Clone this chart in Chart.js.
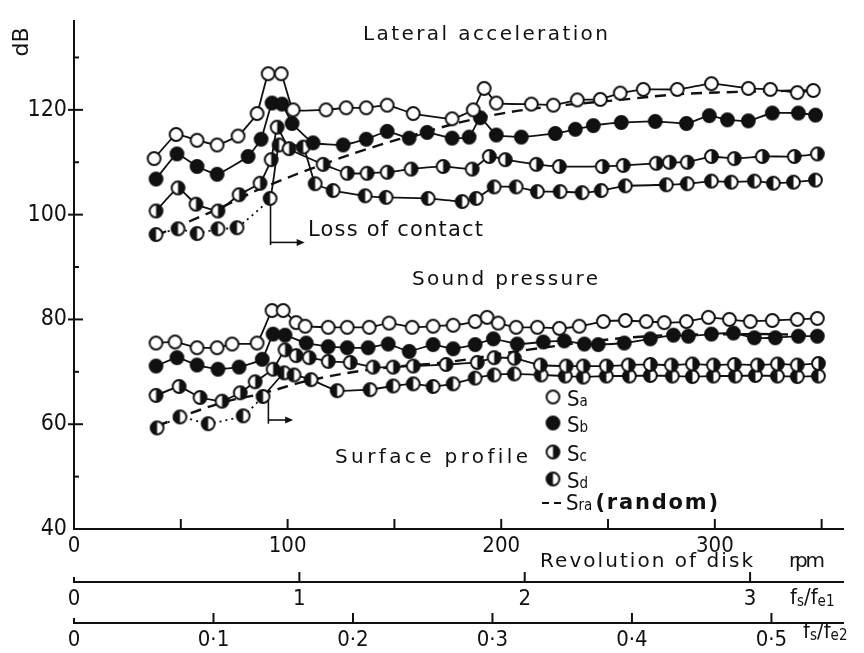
<!DOCTYPE html>
<html>
<head>
<meta charset="utf-8">
<script src="https://cdn.jsdelivr.net/npm/chart.js@4.4.0/dist/chart.umd.min.js"></script>
<style>
  html, body { margin: 0; padding: 0; background: #fff; }
  canvas { display: block; }
</style>
</head>
<body>
<canvas id="chart" width="864" height="653"></canvas>
<script>
// axis ticks
const rpmLabels = [0, 100, 200, 300];
const rpmMinor = [50, 150, 250, 350];
const dbLabels = [40, 60, 80, 100, 120];
const dbMinor = [50, 70, 90, 110, 130];
const fe1Labels = [0, 1, 2, 3];
const fe2Labels = [0, 0.1, 0.2, 0.3, 0.4, 0.5];
const rpmPerFe1 = 105.5;   // rpm at fs/fe1 = 1
const rpmPerFe2 = 653;     // rpm at fs/fe2 = 1

// lateral acceleration (dB)
const accRpmSa = [37.5, 47.8, 57.6, 67.0, 76.8, 85.7, 90.9, 97.0, 102.6, 118.0, 127.4, 136.8, 146.6, 158.8, 177.0, 186.9, 192.0, 197.7, 214.1, 224.4, 235.6, 246.4, 255.7, 266.5, 282.4, 298.4, 315.7, 326.0, 338.6, 346.1];
const accDbSa = [110.7, 115.3, 114.2, 113.3, 115.0, 119.3, 126.9, 126.9, 120.0, 120.0, 120.4, 120.4, 120.9, 119.3, 118.3, 120.0, 124.1, 121.3, 121.1, 120.9, 121.9, 122.0, 123.2, 123.9, 123.9, 125.0, 124.1, 123.9, 123.3, 123.7];

const accRpmSb = [38.4, 48.2, 57.6, 67.0, 81.5, 87.6, 92.7, 97.4, 102.1, 111.9, 126.0, 136.8, 146.6, 156.9, 165.3, 177.0, 185.0, 190.2, 197.7, 209.4, 225.3, 234.7, 243.1, 256.2, 272.1, 286.7, 297.4, 305.9, 315.7, 326.9, 339.1, 347.1];
const accDbSb = [106.8, 111.6, 109.2, 107.7, 111.1, 114.4, 121.3, 121.1, 117.4, 113.7, 113.3, 114.4, 115.9, 114.6, 115.7, 114.6, 114.8, 118.5, 115.2, 114.8, 115.5, 116.3, 117.0, 117.6, 117.8, 117.4, 118.9, 118.1, 117.9, 119.4, 119.4, 119.0];

const accRpmSc = [38.4, 48.7, 57.1, 67.4, 77.3, 87.1, 92.3, 95.1, 100.7, 116.6, 127.9, 137.2, 146.6, 157.8, 172.8, 186.4, 194.4, 201.9, 216.4, 227.2, 247.3, 257.1, 272.6, 278.7, 287.1, 298.4, 309.1, 322.2, 337.2, 348.0];
const accDbSc = [100.7, 105.1, 102.0, 100.7, 103.8, 106.0, 110.5, 116.7, 112.6, 109.6, 107.9, 107.9, 108.1, 108.7, 109.2, 108.7, 111.1, 110.5, 109.6, 109.2, 109.2, 109.4, 109.8, 110.0, 110.0, 111.1, 110.7, 111.1, 111.1, 111.6];

const accRpmSd = [38.4, 48.7, 57.6, 67.4, 76.3, 91.8, 96.0, 107.3, 112.9, 121.3, 136.3, 146.1, 165.8, 181.7, 188.3, 196.7, 207.0, 216.9, 227.6, 237.9, 246.8, 258.1, 277.3, 287.1, 298.4, 307.7, 318.5, 327.4, 336.8, 347.1];
const accDbSd = [96.2, 97.3, 96.4, 97.3, 97.5, 103.1, 113.3, 112.9, 105.9, 104.6, 103.6, 103.3, 103.1, 102.5, 103.1, 105.3, 105.3, 104.4, 104.4, 104.2, 104.6, 105.5, 105.7, 105.9, 106.4, 106.2, 106.4, 106.0, 106.2, 106.6];

const accRpmRa = [38.4, 68.0, 87.1, 116.6, 140.0, 163.5, 190.2, 218.3, 255.7, 283.8, 318.0, 346.0];
const accDbRa = [96.0, 101.2, 104.9, 109.6, 112.9, 115.7, 118.5, 120.4, 121.9, 123.0, 123.5, 123.7];

// sound pressure (dB)
const sndRpmSa = [38.4, 47.3, 57.6, 67.0, 74.0, 85.7, 92.7, 97.9, 104.0, 108.2, 119.0, 127.9, 138.2, 147.5, 158.3, 168.1, 177.5, 187.8, 193.4, 198.6, 207.0, 216.9, 227.2, 236.5, 247.8, 258.1, 267.9, 276.3, 286.7, 297.0, 306.8, 316.6, 326.9, 338.6, 348.0];
const sndDbSa = [75.5, 75.7, 74.6, 74.6, 75.3, 75.5, 81.7, 81.7, 79.4, 78.7, 78.5, 78.5, 78.5, 79.3, 78.5, 78.7, 78.9, 79.6, 80.4, 79.3, 78.5, 78.5, 78.3, 78.7, 79.6, 79.8, 79.6, 79.4, 79.6, 80.4, 80.0, 79.6, 79.8, 80.0, 80.2];

const sndRpmSb = [38.4, 48.2, 57.6, 67.4, 77.3, 88.1, 93.2, 98.8, 108.7, 119.0, 127.9, 137.7, 147.1, 156.9, 168.1, 177.5, 187.8, 196.3, 207.5, 219.7, 229.5, 238.9, 245.4, 257.6, 269.8, 280.6, 287.6, 298.4, 308.7, 318.5, 328.3, 339.1, 348.0];
const sndDbSb = [71.1, 72.7, 71.3, 70.5, 70.9, 72.4, 77.2, 77.0, 75.5, 74.8, 74.6, 74.6, 75.3, 73.9, 75.2, 74.4, 75.2, 76.3, 75.3, 75.7, 75.9, 75.3, 75.2, 75.5, 76.3, 77.0, 76.8, 77.2, 77.4, 76.5, 76.5, 76.8, 76.8];

const sndRpmSc = [38.4, 49.2, 59.0, 69.3, 77.8, 84.8, 93.2, 98.8, 104.0, 110.1, 119.0, 129.3, 140.0, 149.4, 158.8, 174.2, 188.8, 196.7, 206.1, 218.3, 230.4, 238.4, 249.2, 259.5, 269.8, 279.6, 289.5, 299.3, 309.1, 319.9, 329.3, 338.6, 348.5];
const sndDbSc = [65.5, 67.2, 65.1, 64.4, 66.0, 68.1, 70.5, 74.2, 73.1, 72.7, 72.0, 71.8, 70.9, 70.9, 71.1, 71.4, 71.8, 72.7, 72.6, 71.3, 71.1, 71.1, 71.1, 71.3, 71.4, 71.3, 71.5, 71.3, 71.4, 71.3, 71.5, 71.3, 71.6];

const sndRpmSd = [38.9, 49.6, 62.8, 79.2, 88.5, 98.4, 103.0, 111.0, 123.2, 138.6, 149.4, 158.8, 168.1, 177.5, 187.8, 196.7, 206.1, 218.7, 230.0, 238.4, 249.2, 260.0, 269.8, 280.1, 289.5, 299.3, 309.6, 319.0, 329.3, 338.6, 348.5];
const sndDbSd = [59.3, 61.4, 60.1, 61.6, 65.3, 69.8, 69.4, 68.5, 66.4, 66.6, 67.3, 67.7, 67.2, 67.7, 68.8, 69.4, 69.6, 69.4, 69.2, 69.0, 69.2, 69.2, 69.3, 69.2, 69.1, 69.2, 69.2, 69.3, 69.2, 69.1, 69.2];

const sndRpmRa = [38.9, 68.4, 88.5, 109.6, 140.0, 177.5, 212.2, 265.1, 315.2, 348.0];
const sndDbRa = [59.7, 64.0, 65.9, 68.3, 70.5, 72.0, 74.2, 76.7, 77.2, 77.0];

const INK = '#111';
const SANS = "'DejaVu Sans', 'Liberation Sans', sans-serif";
const TICKFONT = "'Liberation Sans Narrow', 'DejaVu Sans Condensed', 'Liberation Sans', sans-serif";

// circle markers: open, filled, half filled
function makeMarker(kind) {
  const c = document.createElement('canvas');
  c.width = 17; c.height = 17;
  const g = c.getContext('2d');
  const r = 6.4, cx = 8.5, cy = 8.5;
  g.beginPath();
  g.arc(cx, cy, r, 0, Math.PI * 2);
  g.fillStyle = kind === 'filled' ? INK : '#fff';
  g.fill();
  if (kind === 'right' || kind === 'left') {
    g.beginPath();
    if (kind === 'right') g.arc(cx, cy, r, -Math.PI / 2, Math.PI / 2);
    else g.arc(cx, cy, r, Math.PI / 2, Math.PI * 1.5);
    g.closePath();
    g.fillStyle = INK;
    g.fill();
  }
  g.beginPath();
  g.arc(cx, cy, r, 0, Math.PI * 2);
  g.lineWidth = 2;
  g.strokeStyle = INK;
  g.stroke();
  return c;
}
const mkOpen = makeMarker('open');
const mkFilled = makeMarker('filled');
const mkSc = makeMarker('right');
const mkSd = makeMarker('left');

const pts = (xs, ys) => xs.map((x, i) => ({ x: x, y: ys[i] }));

function series(xs, ys, marker, dottedUpTo) {
  const ds = {
    data: pts(xs, ys),
    showLine: true,
    borderColor: INK,
    borderWidth: 1.8,
    tension: 0.1,
    pointStyle: marker,
    pointRadius: 7,
    pointHoverRadius: 7
  };
  if (dottedUpTo !== undefined) {
    ds.segment = { borderDash: ctx => ctx.p1DataIndex <= dottedUpTo ? [2, 4] : undefined };
  }
  return ds;
}

function randomLine(xs, ys) {
  return {
    data: pts(xs, ys),
    showLine: true,
    borderColor: INK,
    borderWidth: 2.4,
    borderDash: [11, 7],
    tension: 0.4,
    pointRadius: 0
  };
}

const datasets = [
  series(accRpmSa, accDbSa, mkOpen),
  series(accRpmSb, accDbSb, mkFilled),
  series(accRpmSc, accDbSc, mkSc),
  series(accRpmSd, accDbSd, mkSd, 5),
  series(sndRpmSa, sndDbSa, mkOpen),
  series(sndRpmSb, sndDbSb, mkFilled),
  series(sndRpmSc, sndDbSc, mkSc),
  series(sndRpmSd, sndDbSd, mkSd, 4),
  randomLine(accRpmRa, accDbRa),
  randomLine(sndRpmRa, sndDbRa)
];

// text spread out to a given width
function fitText(ctx, str, x, y, w) {
  ctx.letterSpacing = '0px';
  const m = ctx.measureText(str).width;
  if (str.length > 1) ctx.letterSpacing = ((w - m) / (str.length - 1)).toFixed(2) + 'px';
  ctx.fillText(str, x, y);
  ctx.letterSpacing = '0px';
}

// letter followed by a small subscript, returns the x after it
function subText(ctx, main, sub, x, y, big, small, drop) {
  ctx.font = big;
  ctx.fillText(main, x, y);
  x += ctx.measureText(main).width;
  if (sub) {
    ctx.font = small;
    ctx.fillText(sub, x, y + (drop || 0));
    x += ctx.measureText(sub).width;
  }
  return x;
}

function arrowTo(ctx, x0, y0, x1, y1) {
  ctx.beginPath();
  ctx.moveTo(x0, y0);
  ctx.lineTo(x1 - 6, y1);
  ctx.stroke();
  ctx.beginPath();
  ctx.moveTo(x1, y1);
  ctx.lineTo(x1 - 8, y1 - 3.5);
  ctx.lineTo(x1 - 8, y1 + 3.5);
  ctx.closePath();
  ctx.fill();
}

const decor = {
  id: 'decor',
  afterDraw(chart) {
    const { ctx, scales } = chart;
    const sx = scales.x, sy = scales.y, e1 = scales.fe1, e2 = scales.fe2;
    ctx.save();
    ctx.strokeStyle = INK;
    ctx.fillStyle = INK;
    ctx.lineWidth = 2;
    const seg = (a, b, c, d) => { ctx.beginPath(); ctx.moveTo(a, b); ctx.lineTo(c, d); ctx.stroke(); };

    // y ticks
    const ax = sy.right;
    dbLabels.forEach(v => { const p = sy.getPixelForValue(v); if (v > 40) seg(ax - 6, p, ax + 9, p); });
    dbMinor.forEach(v => { const p = sy.getPixelForValue(v); seg(ax, p, ax + 5, p); });

    // rpm ticks point up into the plot
    rpmLabels.concat(rpmMinor).forEach(v => {
      if (v === 0) return;
      const p = sx.getPixelForValue(v);
      seg(p, sx.top, p, sx.top - 10);
    });
    fe1Labels.forEach(v => { const p = e1.getPixelForValue(v); seg(p, e1.top, p, e1.top - (v === 0 ? 5 : 10)); });
    fe2Labels.forEach(v => { const p = e2.getPixelForValue(v); seg(p, e2.top, p, e2.top - (v === 0 ? 5 : 10)); });

    // loss of contact markers
    ctx.lineWidth = 1.6;
    let xa = sx.getPixelForValue(92), xb = sx.getPixelForValue(108);
    seg(xa, sy.getPixelForValue(101.8), xa, sy.getPixelForValue(94.2));
    arrowTo(ctx, xa, sy.getPixelForValue(94.7), xb, sy.getPixelForValue(94.7));
    xa = sx.getPixelForValue(91); xb = sx.getPixelForValue(102.6);
    seg(xa, sy.getPixelForValue(64.6), xa, sy.getPixelForValue(60.1));
    arrowTo(ctx, xa, sy.getPixelForValue(60.8), xb, sy.getPixelForValue(60.8));

    // panel captions
    ctx.textAlign = 'left';
    ctx.textBaseline = 'alphabetic';
    ctx.font = '20px ' + SANS;
    fitText(ctx, 'Lateral acceleration', 363, 40, 245);
    fitText(ctx, 'Sound pressure', 412, 285, 186);
    fitText(ctx, 'Surface profile', 335, 463, 193);
    ctx.font = '21px ' + SANS;
    fitText(ctx, 'Loss of contact', 308, 236, 175);

    // dB
    ctx.save();
    ctx.translate(22, 42);
    ctx.rotate(-Math.PI / 2);
    ctx.textAlign = 'center';
    ctx.textBaseline = 'middle';
    ctx.font = '22px ' + SANS;
    ctx.fillText('dB', 0, 0);
    ctx.restore();

    // legend
    const big = '22px ' + TICKFONT, small = '15px ' + TICKFONT;
    const marks = [mkOpen, mkFilled, mkSc, mkSd];
    const subs = ['a', 'b', 'c', 'd'];
    const ly = [397, 423, 452, 479];
    marks.forEach((m, i) => {
      ctx.drawImage(m, 553 - m.width / 2, ly[i] - m.height / 2);
      subText(ctx, 'S', subs[i], 567, ly[i] + 9, big, small, 0);
    });
    ctx.lineWidth = 2;
    seg(542, 503, 549, 503);
    seg(554, 503, 561, 503);
    let nx = subText(ctx, 'S', 'ra', 566, 510, big, small, 0);
    ctx.font = 'bold 21px ' + SANS;
    fitText(ctx, '(random)', nx + 3, 509, 718 - nx - 3);

    // axis captions
    ctx.font = '20px ' + SANS;
    fitText(ctx, 'Revolution of disk', 540, 567, 213);
    fitText(ctx, 'rpm', 789, 567, 36);
    const fbig = '22px ' + TICKFONT, fsmall = '15px ' + TICKFONT;
    let fx = subText(ctx, 'f', 's', 790, 604, fbig, fsmall, 2);
    fx = subText(ctx, '/f', 'e1', fx, 604, fbig, fsmall, 2);
    fx = subText(ctx, 'f', 's', 803, 638, fbig, fsmall, 2);
    subText(ctx, '/f', 'e2', fx, 638, fbig, fsmall, 2);
    ctx.restore();
  }
};

const tickFont = { family: TICKFONT, size: 22 };
const fixTicks = list => s => { s.ticks = list.map(v => ({ value: v })); };

new Chart(document.getElementById('chart'), {
  type: 'scatter',
  data: { datasets: datasets },
  options: {
    responsive: false,
    animation: false,
    devicePixelRatio: 1,
    layout: { padding: { top: 8, right: 21, left: 0, bottom: 0 }, autoPadding: false },
    plugins: { legend: { display: false }, tooltip: { enabled: false } },
    scales: {
      x: {
        type: 'linear', position: 'bottom', weight: 0, min: 0, max: 360,
        grid: { display: false, drawTicks: false },
        border: { color: INK, width: 2 },
        ticks: { color: INK, font: tickFont, padding: 4, maxRotation: 0 },
        afterBuildTicks: fixTicks(rpmLabels),
        afterFit: s => { s.height = 53; }
      },
      fe1: {
        type: 'linear', axis: 'x', position: 'bottom', weight: 1, min: 0, max: 360 / rpmPerFe1,
        grid: { display: false, drawTicks: false },
        border: { color: INK, width: 2 },
        ticks: { color: INK, font: tickFont, padding: 4, maxRotation: 0 },
        afterBuildTicks: fixTicks(fe1Labels),
        afterFit: s => { s.height = 41; }
      },
      fe2: {
        type: 'linear', axis: 'x', position: 'bottom', weight: 2, min: 0, max: 360 / rpmPerFe2,
        grid: { display: false, drawTicks: false },
        border: { color: INK, width: 2 },
        ticks: {
          color: INK, font: tickFont, padding: 4, maxRotation: 0,
          callback: v => v === 0 ? '0' : v.toFixed(1).replace('.', '\u00b7')
        },
        afterBuildTicks: fixTicks(fe2Labels),
        afterFit: s => { s.height = 30; }
      },
      y: {
        type: 'linear', position: 'left', min: 40, max: 137,
        grid: { display: false, drawTicks: false },
        border: { color: INK, width: 2 },
        ticks: { color: INK, font: { family: TICKFONT, size: 23 }, padding: 7 },
        afterBuildTicks: fixTicks(dbLabels),
        afterFit: s => { s.width = 74; }
      }
    }
  },
  plugins: [decor]
});
</script>
</body>
</html>
